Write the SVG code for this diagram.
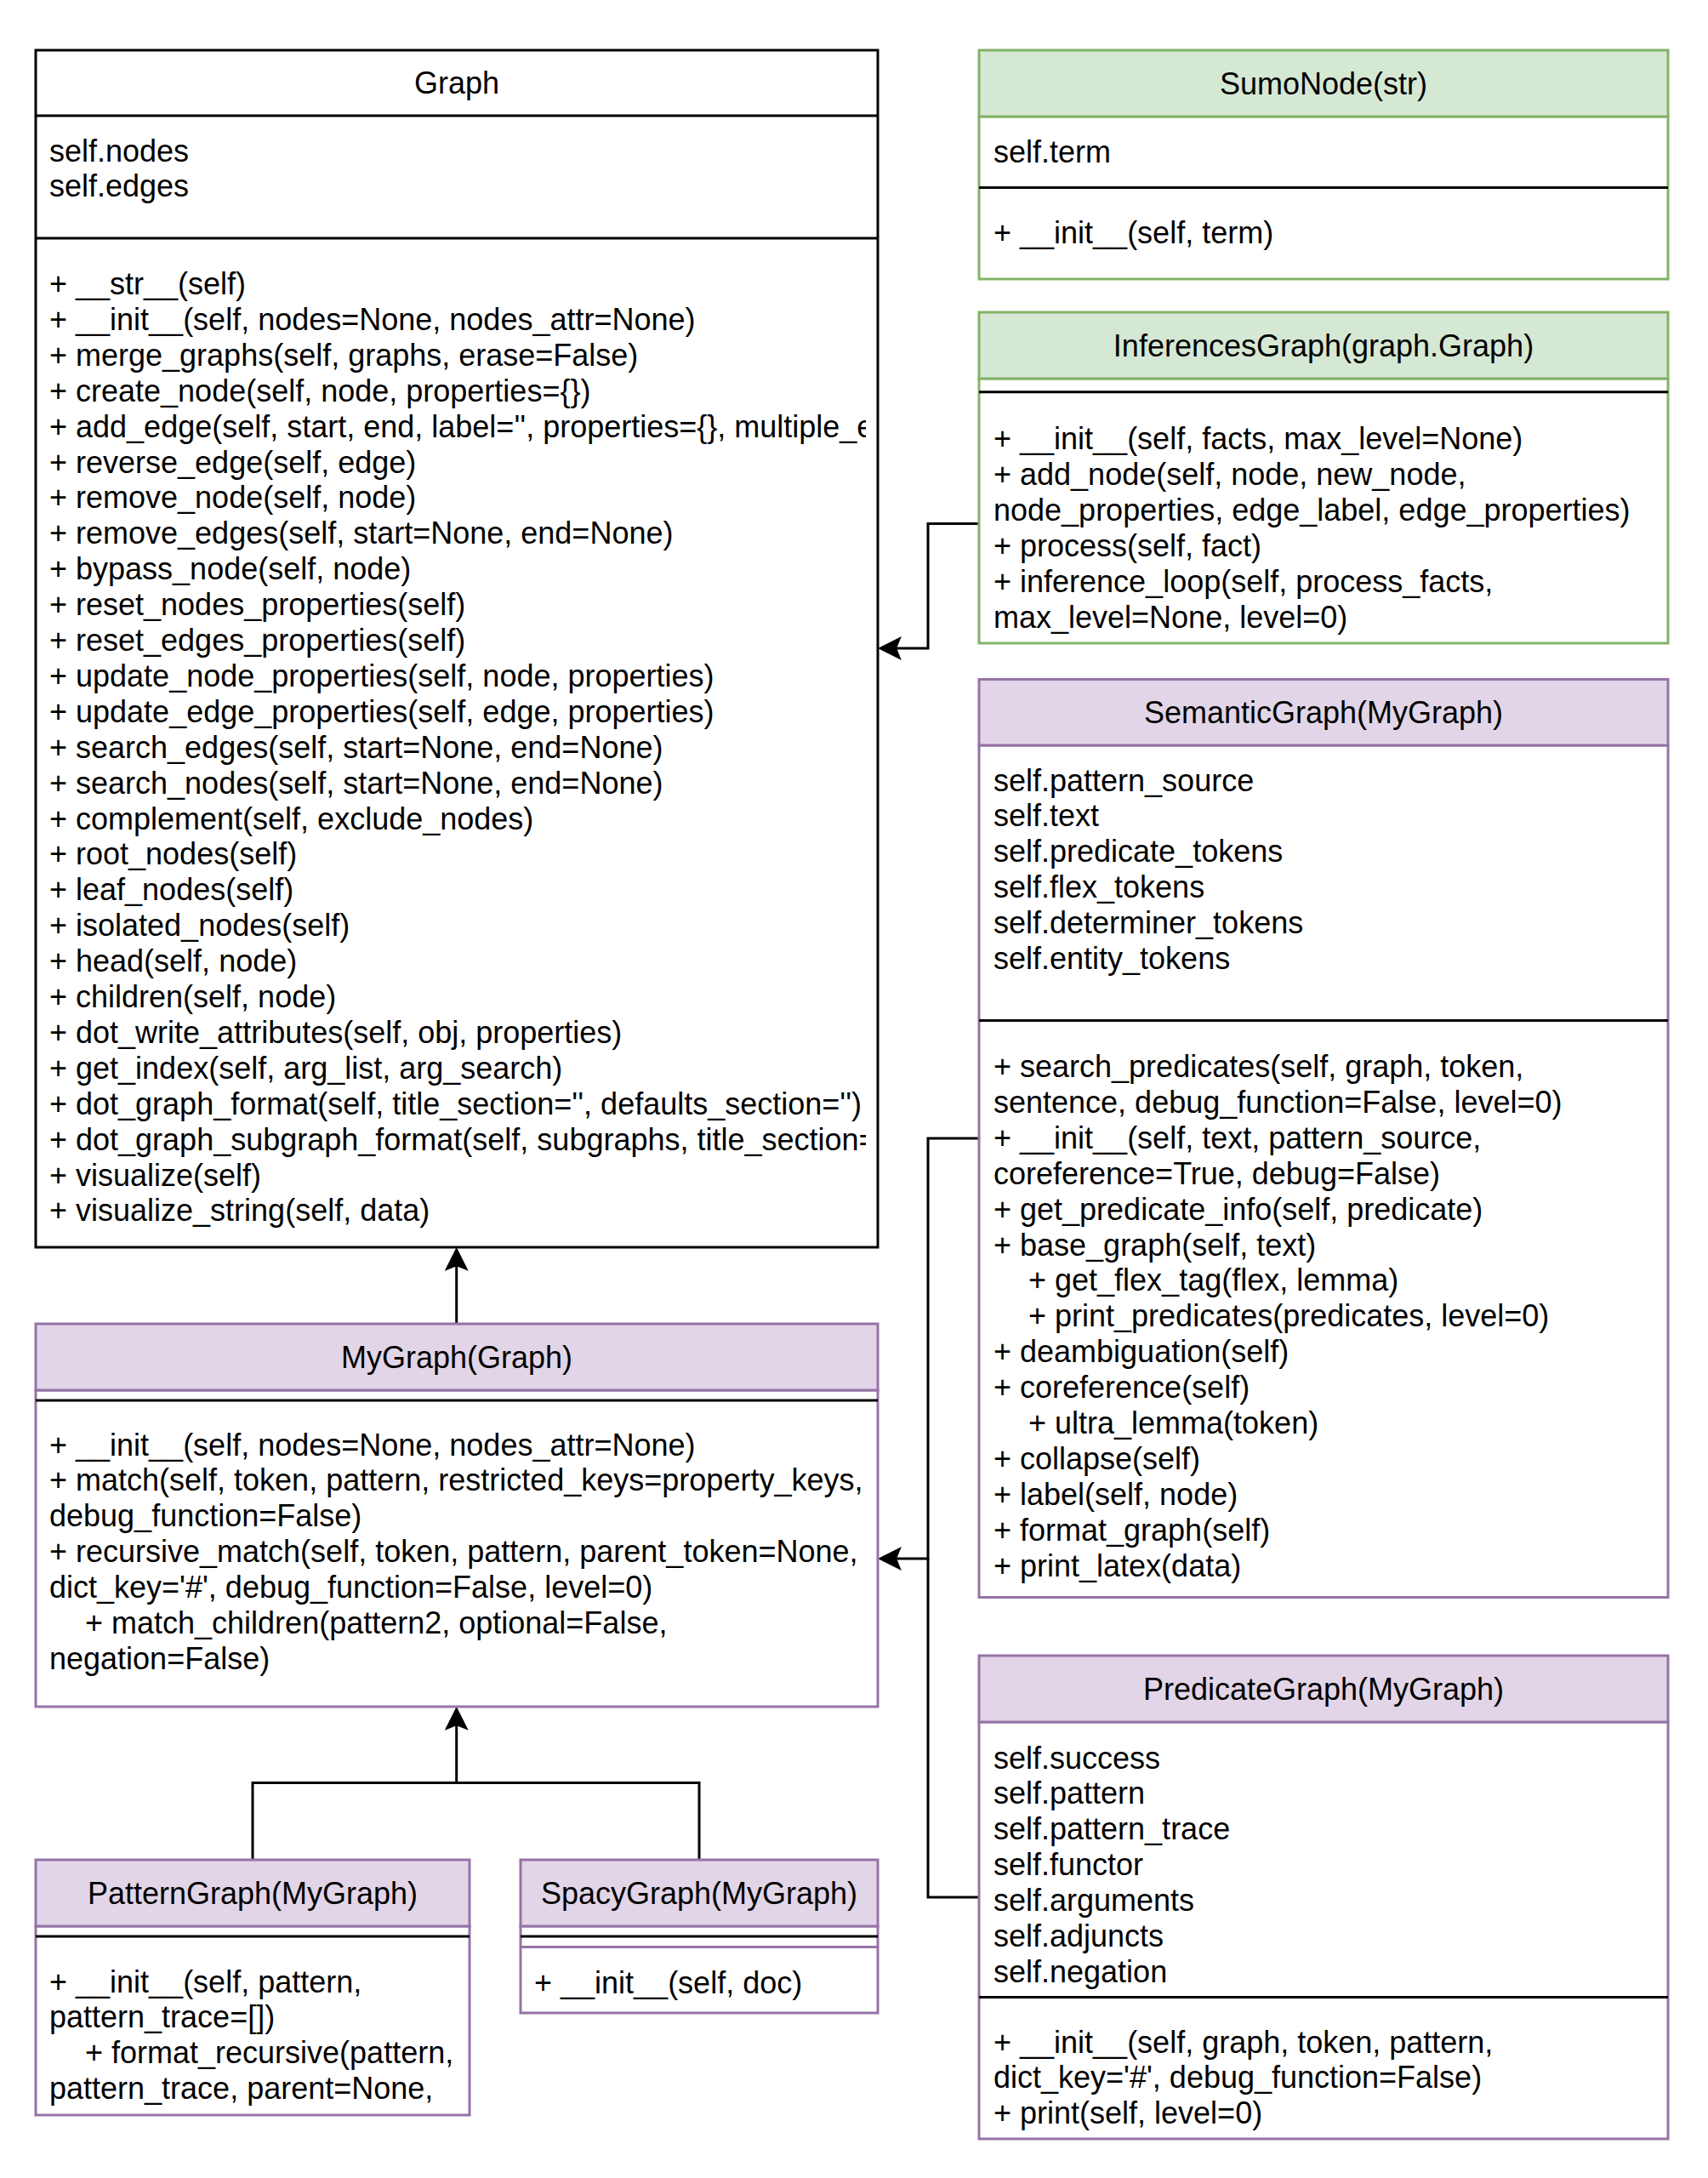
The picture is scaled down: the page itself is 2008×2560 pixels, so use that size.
<svg xmlns="http://www.w3.org/2000/svg" width="2008" height="2560" viewBox="0 0 2008 2560">
<style>
text{font-family:"Liberation Sans",Arial,Helvetica,sans-serif;font-size:36px;fill:#000}
.t{text-anchor:middle}
.box{fill:#fff;stroke-width:3}
.blk{stroke:#000}
.pur{stroke:#9673a6}
.grn{stroke:#82b366}
.hp{fill:#e1d5e7;stroke:#9673a6;stroke-width:3}
.hg{fill:#d5e8d4;stroke:#82b366;stroke-width:3}
.sep{stroke:#000;stroke-width:3;fill:none}
.con{fill:none;stroke:#000;stroke-width:3}
</style>
<defs>
<marker id="arr" markerUnits="userSpaceOnUse" markerWidth="28" markerHeight="28" viewBox="0 0 27 27" refX="23" refY="13.5" orient="auto">
<path d="M0,0 L27,13.5 L0,27 L5.5,13.5 Z" fill="#000"/>
</marker>
<clipPath id="clipGraph"><rect x="42" y="280" width="976" height="1180"/></clipPath>
</defs>
<rect width="2008" height="2560" fill="#fff"/>

<g id="connectors">
<path class="con" d="M536.7,1556 V1470" marker-end="url(#arr)"/>
<path class="con" d="M297,2186 V2095.5 H536.7 V2010" marker-end="url(#arr)"/>
<path class="con" d="M822,2186 V2095.5 H536.7"/>
<path class="con" d="M1151,615.5 H1091 V762 H1036" marker-end="url(#arr)"/>
<path class="con" d="M1151,1338 H1091 V1832 H1036" marker-end="url(#arr)"/>
<path class="con" d="M1151,2230 H1091 V1832"/>
</g>

<g id="Graph">
<rect class="box blk" x="42" y="59" width="990" height="1407"/>
<line class="sep" x1="42" y1="136" x2="1032" y2="136"/>
<line class="sep" x1="42" y1="280" x2="1032" y2="280"/>
<text class="t" x="537" y="110">Graph</text>
<text x="58" y="189.5">self.nodes</text>
<text x="58" y="231.4">self.edges</text>
<g clip-path="url(#clipGraph)">
<text x="58" y="346">+ __str__(self)</text>
<text x="58" y="387.9">+ __init__(self, nodes=None, nodes_attr=None)</text>
<text x="58" y="429.8">+ merge_graphs(self, graphs, erase=False)</text>
<text x="58" y="471.7">+ create_node(self, node, properties={})</text>
<text x="58" y="513.6">+ add_edge(self, start, end, label='', properties={}, multiple_e</text>
<text x="58" y="555.5">+ reverse_edge(self, edge)</text>
<text x="58" y="597.4">+ remove_node(self, node)</text>
<text x="58" y="639.3">+ remove_edges(self, start=None, end=None)</text>
<text x="58" y="681.2">+ bypass_node(self, node)</text>
<text x="58" y="723.1">+ reset_nodes_properties(self)</text>
<text x="58" y="765">+ reset_edges_properties(self)</text>
<text x="58" y="806.9">+ update_node_properties(self, node, properties)</text>
<text x="58" y="848.8">+ update_edge_properties(self, edge, properties)</text>
<text x="58" y="890.7">+ search_edges(self, start=None, end=None)</text>
<text x="58" y="932.6">+ search_nodes(self, start=None, end=None)</text>
<text x="58" y="974.5">+ complement(self, exclude_nodes)</text>
<text x="58" y="1016.4">+ root_nodes(self)</text>
<text x="58" y="1058.3">+ leaf_nodes(self)</text>
<text x="58" y="1100.2">+ isolated_nodes(self)</text>
<text x="58" y="1142.1">+ head(self, node)</text>
<text x="58" y="1184">+ children(self, node)</text>
<text x="58" y="1225.9">+ dot_write_attributes(self, obj, properties)</text>
<text x="58" y="1267.8">+ get_index(self, arg_list, arg_search)</text>
<text x="58" y="1309.7">+ dot_graph_format(self, title_section='', defaults_section='')</text>
<text x="58" y="1351.6">+ dot_graph_subgraph_format(self, subgraphs, title_section=</text>
<text x="58" y="1393.5">+ visualize(self)</text>
<text x="58" y="1435.4">+ visualize_string(self, data)</text>
</g>
</g>

<g id="MyGraph">
<rect class="box pur" x="42" y="1634" width="990" height="372"/>
<rect class="hp" x="42" y="1556" width="990" height="78"/>
<line class="sep" x1="42" y1="1646" x2="1032" y2="1646"/>
<text class="t" x="537" y="1607.5">MyGraph(Graph)</text>
<text x="58" y="1710.5">+ __init__(self, nodes=None, nodes_attr=None)</text>
<text x="58" y="1752.4">+ match(self, token, pattern, restricted_keys=property_keys,</text>
<text x="58" y="1794.3">debug_function=False)</text>
<text x="58" y="1836.2">+ recursive_match(self, token, pattern, parent_token=None,</text>
<text x="58" y="1878.1">dict_key='#', debug_function=False, level=0)</text>
<text x="100" y="1920">+ match_children(pattern2, optional=False,</text>
<text x="58" y="1961.9">negation=False)</text>
</g>

<g id="PatternGraph">
<rect class="box pur" x="42" y="2264" width="510" height="222"/>
<rect class="hp" x="42" y="2186" width="510" height="78"/>
<line class="sep" x1="42" y1="2276" x2="552" y2="2276"/>
<text class="t" x="297" y="2237.5">PatternGraph(MyGraph)</text>
<text x="58" y="2341.5">+ __init__(self, pattern,</text>
<text x="58" y="2383.4">pattern_trace=[])</text>
<text x="100" y="2425.3">+ format_recursive(pattern,</text>
<text x="58" y="2467.2">pattern_trace, parent=None,</text>
</g>

<g id="SpacyGraph">
<rect class="box pur" x="612" y="2264" width="420" height="102"/>
<rect class="hp" x="612" y="2186" width="420" height="78"/>
<line x1="612" y1="2288.6" x2="1032" y2="2288.6" stroke="#9673a6" stroke-width="3"/>
<line class="sep" x1="612" y1="2276" x2="1032" y2="2276"/>
<text class="t" x="822" y="2237.5">SpacyGraph(MyGraph)</text>
<text x="628" y="2342.5">+ __init__(self, doc)</text>
</g>

<g id="SumoNode">
<rect class="box grn" x="1151" y="137" width="810" height="191"/>
<rect class="hg" x="1151" y="59" width="810" height="78"/>
<line class="sep" x1="1151" y1="220.4" x2="1961" y2="220.4"/>
<text class="t" x="1556" y="110.5">SumoNode(str)</text>
<text x="1168" y="191">self.term</text>
<text x="1168" y="285.5">+ __init__(self, term)</text>
</g>

<g id="InferencesGraph">
<rect class="box grn" x="1151" y="445" width="810" height="311"/>
<rect class="hg" x="1151" y="367" width="810" height="78"/>
<line class="sep" x1="1151" y1="460.7" x2="1961" y2="460.7"/>
<text class="t" x="1556" y="418.5">InferencesGraph(graph.Graph)</text>
<text x="1168" y="528">+ __init__(self, facts, max_level=None)</text>
<text x="1168" y="569.9">+ add_node(self, node, new_node,</text>
<text x="1168" y="611.8">node_properties, edge_label, edge_properties)</text>
<text x="1168" y="653.7">+ process(self, fact)</text>
<text x="1168" y="695.6">+ inference_loop(self, process_facts,</text>
<text x="1168" y="737.5">max_level=None, level=0)</text>
</g>

<g id="SemanticGraph">
<rect class="box pur" x="1151" y="876" width="810" height="1001.5"/>
<rect class="hp" x="1151" y="798.5" width="810" height="77.5"/>
<line class="sep" x1="1151" y1="1199.6" x2="1961" y2="1199.6"/>
<text class="t" x="1556" y="849.5">SemanticGraph(MyGraph)</text>
<text x="1168" y="929.5">self.pattern_source</text>
<text x="1168" y="971.4">self.text</text>
<text x="1168" y="1013.3">self.predicate_tokens</text>
<text x="1168" y="1055.2">self.flex_tokens</text>
<text x="1168" y="1097.1">self.determiner_tokens</text>
<text x="1168" y="1139">self.entity_tokens</text>
<text x="1168" y="1266">+ search_predicates(self, graph, token,</text>
<text x="1168" y="1307.9">sentence, debug_function=False, level=0)</text>
<text x="1168" y="1349.8">+ __init__(self, text, pattern_source,</text>
<text x="1168" y="1391.7">coreference=True, debug=False)</text>
<text x="1168" y="1433.6">+ get_predicate_info(self, predicate)</text>
<text x="1168" y="1475.5">+ base_graph(self, text)</text>
<text x="1209" y="1517.4">+ get_flex_tag(flex, lemma)</text>
<text x="1209" y="1559.3">+ print_predicates(predicates, level=0)</text>
<text x="1168" y="1601.2">+ deambiguation(self)</text>
<text x="1168" y="1643.1">+ coreference(self)</text>
<text x="1209" y="1685">+ ultra_lemma(token)</text>
<text x="1168" y="1726.9">+ collapse(self)</text>
<text x="1168" y="1768.8">+ label(self, node)</text>
<text x="1168" y="1810.7">+ format_graph(self)</text>
<text x="1168" y="1852.6">+ print_latex(data)</text>
</g>

<g id="PredicateGraph">
<rect class="box pur" x="1151" y="2024" width="810" height="490"/>
<rect class="hp" x="1151" y="1946" width="810" height="78"/>
<line class="sep" x1="1151" y1="2347.5" x2="1961" y2="2347.5"/>
<text class="t" x="1556" y="1997.5">PredicateGraph(MyGraph)</text>
<text x="1168" y="2078.5">self.success</text>
<text x="1168" y="2120.4">self.pattern</text>
<text x="1168" y="2162.3">self.pattern_trace</text>
<text x="1168" y="2204.2">self.functor</text>
<text x="1168" y="2246.1">self.arguments</text>
<text x="1168" y="2288">self.adjuncts</text>
<text x="1168" y="2329.9">self.negation</text>
<text x="1168" y="2412.5">+ __init__(self, graph, token, pattern,</text>
<text x="1168" y="2454.4">dict_key='#', debug_function=False)</text>
<text x="1168" y="2496.3">+ print(self, level=0)</text>
</g>
</svg>
